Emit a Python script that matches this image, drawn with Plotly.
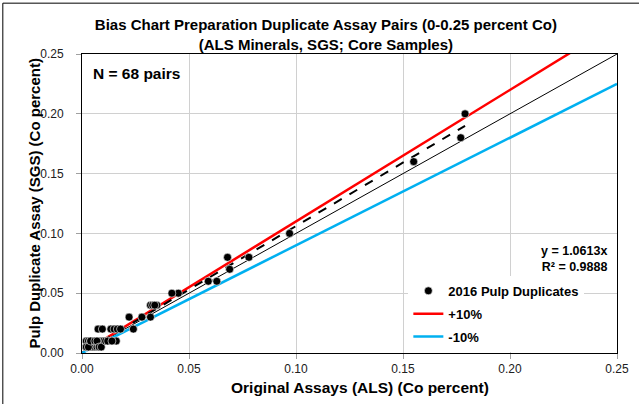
import plotly.graph_objects as go

# Original assays (ALS) vs pulp duplicates (SGS), Co percent
orig_als = [0.179, 0.177, 0.155, 0.097, 0.078, 0.068, 0.069, 0.063, 0.059, 0.045,
            0.042, 0.032, 0.033, 0.035, 0.034, 0.022, 0.028, 0.032, 0.024, 0.0075,
            0.0095, 0.0135, 0.015, 0.0165, 0.018, 0.0025, 0.005, 0.0075, 0.009, 0.011,
            0.0135, 0.016, 0.002, 0.004, 0.0065, 0.005, 0.002, 0.003, 0.004, 0.005,
            0.006, 0.007, 0.002, 0.003, 0.004, 0.005, 0.006, 0.008, 0.009, 0.010,
            0.003, 0.004, 0.005, 0.006, 0.007, 0.008, 0.010, 0.012, 0.002, 0.003,
            0.004, 0.006, 0.007, 0.008, 0.009, 0.011, 0.012, 0.014]
dup_sgs = [0.20, 0.18, 0.16, 0.10, 0.08, 0.08, 0.07, 0.06, 0.06, 0.05,
           0.05, 0.04, 0.04, 0.04, 0.04, 0.03, 0.03, 0.03, 0.02, 0.02,
           0.02, 0.02, 0.02, 0.02, 0.02, 0.01, 0.01, 0.01, 0.01, 0.01,
           0.01, 0.01, 0.005, 0.005, 0.005, 0.005, 0.005, 0.005, 0.005, 0.005,
           0.005, 0.005, 0.01, 0.01, 0.01, 0.01, 0.01, 0.01, 0.01, 0.01,
           0.005, 0.005, 0.005, 0.005, 0.005, 0.005, 0.01, 0.01, 0.005, 0.005,
           0.01, 0.01, 0.01, 0.005, 0.005, 0.01, 0.01, 0.01]

slope = 1.0613
r2 = 0.9888
n_pairs = 68

ref_x = [0, 0.25]          # extent of the reference lines
plus_factor = 1.10
minus_factor = 0.90

FONT = "Liberation Sans, Arial, sans-serif"

fig = go.Figure()

# 1:1 line
fig.add_trace(go.Scatter(x=ref_x, y=ref_x, mode="lines", line=dict(color="black", width=1),
                         showlegend=False, hoverinfo="skip"))

# +/-10% lines
fig.add_trace(go.Scatter(x=ref_x, y=[v*plus_factor for v in ref_x], mode="lines",
                         line=dict(color="#ff0000", width=2.5), name="<b>+10%</b>",
                         legendgroup="p", legendrank=2))
fig.add_trace(go.Scatter(x=ref_x, y=[v*minus_factor for v in ref_x], mode="lines",
                         line=dict(color="#00b0f0", width=2.5), name="<b>-10%</b>",
                         legendgroup="m", legendrank=3))

# trend line through origin, over the data range
tx = [min(orig_als), max(orig_als)]
fig.add_trace(go.Scatter(x=tx, y=[slope*v for v in tx], mode="lines",
                         line=dict(color="black", width=2, dash="dash"),
                         showlegend=False, hoverinfo="skip"))

# data points
fig.add_trace(go.Scatter(x=orig_als, y=dup_sgs, mode="markers",
                         marker=dict(color="black", size=8, line=dict(color="white", width=0.6)),
                         name="<b>2016 Pulp Duplicates</b>", legendgroup="d", legendrank=1))

fig.add_annotation(xref="paper", yref="paper", x=0.017, y=0.936, xanchor="left", yanchor="middle",
                   text=f"<b>N = {n_pairs} pairs</b>", showarrow=False, font=dict(size=15.5, color="black"))
fig.add_annotation(xref="paper", yref="paper", x=0.985, y=0.314, xanchor="right", yanchor="middle",
                   align="right", text=f"<b>y = {slope}x<br>R² = {r2}</b>", showarrow=False,
                   font=dict(size=12.5, color="black"))

# axis titles placed by hand (the y one sits right against the tick labels)
fig.add_annotation(xref="paper", yref="paper", x=-0.088, y=0.5, xanchor="center", yanchor="middle",
                   textangle=-90, text="<b>Pulp Duplicate Assay (SGS) (Co percent)</b>",
                   showarrow=False, font=dict(size=15, color="black"))
fig.add_annotation(xref="paper", yref="paper", x=0.52, y=-0.117, xanchor="center", yanchor="middle",
                   text="<b>Original Assays (ALS) (Co percent)</b>",
                   showarrow=False, font=dict(size=15.5, color="black"))

# chart area border (cut off at right/bottom as in the source)
fig.add_shape(type="rect", xref="paper", yref="paper", x0=-0.148, y0=-0.35, x1=1.2, y1=1.17,
              line=dict(color="black", width=1), layer="below")

axis = dict(range=[0, 0.25], dtick=0.05, tickformat=".2f", showgrid=True, gridcolor="#d0d0d0",
            gridwidth=1, zeroline=False, showline=True, linecolor="black", linewidth=1, mirror=True,
            ticks="outside", ticklen=5, tickcolor="#a0a0a0", automargin=False,
            tickfont=dict(size=12, color="#202020"))

fig.update_xaxes(**axis)
fig.update_yaxes(**axis, ticklabelstandoff=10)

fig.update_layout(
    width=639, height=404,
    margin=dict(l=82, r=22, t=54, b=51),
    font=dict(family=FONT, color="black"),
    paper_bgcolor="white", plot_bgcolor="white",
    title=dict(text="<b>Bias Chart Preparation Duplicate Assay Pairs (0-0.25 percent Co)<br>(ALS Minerals, SGS; Core Samples)</b>",
               x=0.51, xanchor="center", y=0.925, yanchor="middle", font=dict(size=15, color="black")),
    legend=dict(x=0.61, y=0.258, xanchor="left", yanchor="top", bgcolor="white",
                font=dict(size=13, color="black"), tracegroupgap=3, traceorder="grouped"),
    hovermode=False,
)

# drop the default page margin so the figure sits at the window origin
fig.write_html("out.html", config={"displayModeBar": False},
               post_script="document.body.style.margin='0';")
